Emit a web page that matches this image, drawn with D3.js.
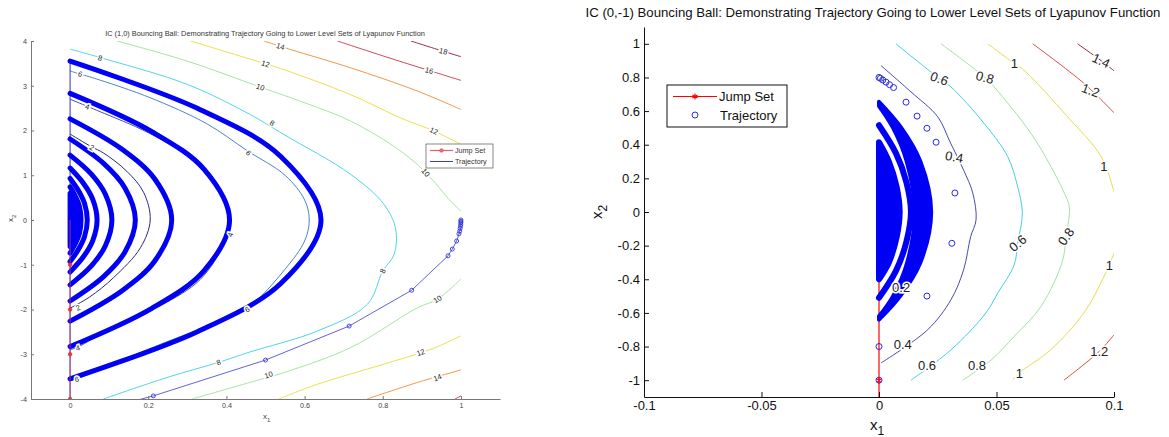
<!DOCTYPE html>
<html>
<head>
<meta charset="utf-8">
<title>Bouncing ball level sets</title>
<script src="https://cdn.jsdelivr.net/npm/d3@7/dist/d3.min.js"></script>
<style>
  body { margin: 0; background: #fff; }
  svg text { font-family: "Liberation Sans", Arial, Helvetica, sans-serif; }
</style>
</head>
<body>
<div id="chart-area"></div>
<script>
/*
*    Bouncing ball: two hybrid trajectories drawn over level sets of a Lyapunov function
*/

// ---------------- left plot, IC (1,0) ----------------
let leftXTicks = [0, 0.2, 0.4, 0.6, 0.8, 1];
let leftYTicks = [-4, -3, -2, -1, 0, 1, 2, 3, 4];

// contour lines, [x1, x2]
let leftContours = [
    { level: 2, pieces: [[[0,1.92],[0.056,1.63],[0.085,1.5],[0.145,1.09],[0.188,0.62],[0.205,0],[0.18,-0.62],[0.111,-1.29],[0.05,-1.72],[0,-1.97]]] },
    { level: 4, pieces: [[[0,2.7],[0.044,2.54],[0.077,2.42],[0.2,1.95],[0.333,1.25],[0.39,0.6],[0.408,0],[0.395,-0.5],[0.333,-1.33],[0.23,-1.92],[0.103,-2.42],[0.02,-2.84],[0,-2.9]]] },
    { level: 6, pieces: [[[0,3.33],[0.026,3.26],[0.05,3.2],[0.2,2.75],[0.35,2.15],[0.453,1.55],[0.55,1.0],[0.6,0.45],[0.612,0],[0.6,-0.47],[0.55,-1.1],[0.453,-1.97],[0.35,-2.38],[0.248,-2.72],[0.1,-3.25],[0.017,-3.55],[0,-3.58]]] },
    { level: 8, pieces: [[[0,3.82],[0.077,3.63],[0.3,3.03],[0.46,2.36],[0.547,1.91],[0.718,1.02],[0.803,0.35],[0.833,-0.2],[0.829,-0.77],[0.8,-1.14],[0.761,-1.88],[0.633,-2.48],[0.46,-2.95],[0.38,-3.18],[0.248,-3.52],[0.085,-4.0]]] },
    { level: 10, pieces: [[[0.12,4.0],[0.3,3.55],[0.487,2.97],[0.6,2.62],[0.718,2.21],[0.846,1.54],[0.91,1.06],[0.974,0.42],[1.0,0.2]],
                          [[1.0,-1.32],[0.94,-1.77],[0.889,-1.96],[0.718,-2.85],[0.547,-3.41],[0.46,-3.63],[0.312,-4.0]]] },
    { level: 12, pieces: [[[0.308,4.0],[0.5,3.49],[0.547,3.36],[0.718,2.8],[0.846,2.28],[0.931,1.99],[1.0,1.69]],
                          [[1.0,-2.59],[0.923,-2.89],[0.803,-3.22],[0.633,-3.67],[0.534,-4.0]]] },
    { level: 14, pieces: [[[0.496,4.0],[0.564,3.81],[0.718,3.4],[0.889,2.88],[1.0,2.47]],
                          [[1.0,-3.35],[0.889,-3.63],[0.76,-4.0]]] },
    { level: 16, pieces: [[[0.684,4.0],[0.803,3.66],[0.919,3.34],[1.0,3.12]],
                          [[0.985,-4.0],[1.0,-3.93]]] },
    { level: 18, pieces: [[[0.872,4.0],[0.955,3.77],[1.0,3.65]]] }
];

// contour labels: [level, x1, x2, angle]
let leftLabels = [
    [8, 0.077, 3.62, 15], [6, 0.026, 3.26, 15], [4, 0.044, 2.53, 20], [2, 0.056, 1.62, 30],
    [2, 0.02, -1.96, -25], [4, 0.02, -2.86, -15], [6, 0.017, -3.56, -10],
    [6, 0.457, 1.5, 45], [8, 0.517, 2.17, 30], [10, 0.487, 2.97, 20], [12, 0.5, 3.49, 18],
    [14, 0.538, 3.88, 15], [16, 0.919, 3.34, 15], [18, 0.955, 3.77, 15], [12, 0.931, 1.99, 25],
    [10, 0.91, 1.06, 50], [8, 0.8, -1.14, -65], [4, 0.41, -0.33, -70], [6, 0.453, -2.0, -30],
    [8, 0.38, -3.18, -20], [10, 0.508, -3.46, -20], [10, 0.94, -1.77, -30], [12, 0.897, -2.96, -20],
    [14, 0.94, -3.52, -20]
];

// first flow from (1,0) to the floor, sparse markers
let leftFirstArc = [[1,0],[1,-0.03],[0.9999,-0.06],[0.9995,-0.1],[0.999,-0.14],[0.998,-0.19],[0.997,-0.25],
    [0.995,-0.31],[0.989,-0.47],[0.978,-0.65],[0.967,-0.8],[0.874,-1.57],[0.714,-2.37],[0.5,-3.13],[0.213,-3.93],[0,-4.43]];

// later bounces, dense markers
let leftArcs = [
    [[0,3.55],[0.327,2.49],[0.539,1.42],[0.642,0],[0.539,-1.42],[0.327,-2.49],[0,-3.55]],
    [[0,2.83],[0.208,1.98],[0.343,1.13],[0.408,0],[0.343,-1.13],[0.208,-1.98],[0,-2.83]],
    [[0,2.26],[0.133,1.58],[0.218,0.9],[0.26,0],[0.218,-0.9],[0.133,-1.58],[0,-2.26]],
    [[0,1.81],[0.085,1.27],[0.14,0.72],[0.167,0],[0.14,-0.72],[0.085,-1.27],[0,-1.81]],
    [[0,1.45],[0.055,1.02],[0.09,0.58],[0.107,0],[0.09,-0.58],[0.055,-1.02],[0,-1.45]],
    [[0,1.16],[0.035,0.81],[0.058,0.46],[0.069,0],[0.058,-0.46],[0.035,-0.81],[0,-1.16]],
    [[0,0.93],[0.022,0.65],[0.037,0.37],[0.044,0],[0.037,-0.37],[0.022,-0.65],[0,-0.93]],
    [[0,0.74],[0.014,0.52],[0.024,0.3],[0.028,0],[0.024,-0.3],[0.014,-0.52],[0,-0.74]]
];
let leftBlob = [[0,0.6],[0.009,0.42],[0.015,0.24],[0.018,0],[0.015,-0.24],[0.009,-0.42],[0,-0.6]];

let leftJumpTrace = [[0,-4.43],[0,3.55]];
let leftJumpLine = [[0,-4],[0,0]];
let leftJumpMarks = [-4, -3, -2, -1];

// ---------------- right plot, IC (0,-1) ----------------
let rightXTicks = [-0.1, -0.05, 0, 0.05, 0.1];
let rightYTicks = [-1, -0.8, -0.6, -0.4, -0.2, 0, 0.2, 0.4, 0.6, 0.8, 1];

let rightContours = [
    { level: 0.2, pieces: [[[0,0.632],[0.0103,0.445],[0.0163,0.25],[0.0204,0],[0.0163,-0.25],[0.0103,-0.445],[0,-0.632]]] },
    { level: 0.4, pieces: [[[0.0009,0.87],[0.0136,0.714],[0.025,0.566],[0.0302,0.417],[0.036,0.249],[0.0399,0.113],[0.0413,-0.047],
                            [0.039,-0.147],[0.036,-0.344],[0.0306,-0.522],[0.0207,-0.7],[0.0009,-0.897]]] },
    { level: 0.6, pieces: [[[0.0072,1.0],[0.0257,0.793],[0.0306,0.744],[0.0447,0.527],[0.0548,0.328],[0.059,0.15],[0.061,-0.006],
                            [0.059,-0.186],[0.0575,-0.315],[0.0505,-0.483],[0.0455,-0.6],[0.0306,-0.82],[0.0136,-1.0]]] },
    { level: 0.8, pieces: [[[0.0264,1.0],[0.0451,0.8],[0.049,0.744],[0.0647,0.467],[0.0732,0.269],[0.0789,0.111],[0.081,0.03],
                            [0.0796,-0.146],[0.078,-0.295],[0.069,-0.56],[0.0575,-0.74],[0.0477,-0.88],[0.0356,-1.0]]] },
    { level: 1, pieces: [[[0.0463,1.0],[0.0576,0.883],[0.0617,0.843],[0.0803,0.565],[0.0945,0.33],[0.1,0.12]],
                         [[0.1,-0.245],[0.0957,-0.385],[0.0872,-0.6],[0.073,-0.82],[0.0597,-0.957],[0.0569,-1.0]]] },
    { level: 1.2, pieces: [[[0.0654,1.0],[0.0872,0.765],[0.1,0.59]], [[0.1,-0.73],[0.0937,-0.829],[0.0787,-1.0]]] },
    { level: 1.4, pieces: [[[0.0845,1.0],[0.0945,0.9],[0.1,0.84]]] }
];

let rightLabels = [
    [0.6, 0.0257, 0.793, 20], [0.8, 0.0451, 0.8, 15], [1, 0.0576, 0.883, 0], [1.4, 0.0945, 0.9, 25],
    [1.2, 0.09, 0.724, 20], [0.4, 0.032, 0.328, 10], [1, 0.0957, 0.27, 0], [0.2, 0.0094, -0.447, 0],
    [0.6, 0.059, -0.186, -40], [0.8, 0.0796, -0.146, -55], [1, 0.098, -0.315, 0], [0.4, 0.0101, -0.79, 0],
    [0.6, 0.0204, -0.914, 0], [0.8, 0.0417, -0.914, 0], [1, 0.0597, -0.957, 0], [1.2, 0.0937, -0.829, 0]
];

// sparse markers of the first bounce
let rightTraj = [[0,-1],[0,0.8],[0.0006,0.795],[0.0016,0.785],[0.003,0.772],[0.0045,0.757],[0.0062,0.74],
    [0.0115,0.653],[0.0162,0.57],[0.0204,0.498],[0.0243,0.415],[0.0323,0.113],[0.031,-0.186],[0.0204,-0.5],[0,-0.8]];

// dense bands of the later bounces
let rightBandOuter = [[0,0.655],[0.0095,0.5],[0.0176,0.3],[0.0222,0],[0.0176,-0.3],[0.009,-0.5],[0,-0.64]];
let rightBandInner = [[0,0.63],[0.006,0.5],[0.0118,0.3],[0.0152,0],[0.012,-0.3],[0.006,-0.5],[0,-0.62]];
let rightMidArc = [[0,0.516],[0.0072,0.35],[0.0116,0.18],[0.0136,0],[0.0116,-0.18],[0.0072,-0.35],[0,-0.51]];
let rightCore = [[0,0.415],[0.0042,0.3],[0.0075,0.15],[0.0088,0],[0.0075,-0.15],[0.0042,-0.3],[0,-0.4]];

let rightJumpLine = [[0,-1.1],[0,0]];
let rightJumpMarks = [-1];

// colours (jet-like, as rendered)
let leftColors = ["#2a2a7c", "#4b4ba8", "#4a86c8", "#4fd6e8", "#a8e4a2", "#ece04a", "#ee9848", "#d2485a", "#98304a"];
let rightColors = ["#22227e", "#4a4aae", "#42d0e0", "#a6e0a4", "#e8dc4c", "#dc4a4a", "#8a2c3a"];
let blue = "#0000f5";

let svg = d3.select("#chart-area")
    .append("svg")
    .attr("width", 1169)
    .attr("height", 437);

let curve = d3.curveCatmullRom.alpha(0.5);

function drawContours(g, x, y, contours, colors) {
    let line = d3.line().x(d => x(d[0])).y(d => y(d[1])).curve(curve);
    contours.forEach(function(c, i) {
        c.pieces.forEach(function(p) {
            g.append("path")
                .attr("d", line(p))
                .attr("fill", "none")
                .attr("stroke", colors[i])
                .attr("stroke-width", 1);
        });
    });
}

function drawLabels(g, x, y, labels, size) {
    g.selectAll("text.clabel")
        .data(labels)
        .enter()
        .append("text")
        .attr("class", "clabel")
        .attr("transform", d => "translate(" + x(d[1]) + "," + y(d[2]) + ") rotate(" + d[3] + ")")
        .attr("text-anchor", "middle")
        .attr("dy", "0.35em")
        .attr("font-size", size)
        .attr("fill", "#222")
        .attr("stroke", "#fff")
        .attr("stroke-width", 3)
        .attr("paint-order", "stroke")
        .text(d => String(d[0]));
}

function drawAxes(g, x, y, w, h, xt, yt, size, axisColor, textColor, tick) {
    let xa = g.append("g")
        .attr("transform", "translate(0," + h + ")")
        .call(d3.axisBottom(x).tickValues(xt).tickFormat(d => String(d)).tickSize(-tick).tickSizeOuter(0).tickPadding(4));
    let ya = g.append("g")
        .call(d3.axisLeft(y).tickValues(yt).tickFormat(d => String(d)).tickSize(-tick).tickSizeOuter(0).tickPadding(4));
    [xa, ya].forEach(function(a) {
        a.attr("font-size", size).attr("font-family", null);
        a.selectAll("path, line").attr("stroke", axisColor);
        a.selectAll("text").attr("fill", textColor);
    });
}

// ================= LEFT =================
let lm = { left: 31, top: 41, width: 469, height: 358 };
let gL = svg.append("g").attr("transform", "translate(" + lm.left + "," + lm.top + ")");
let xL = d3.scaleLinear().domain([-0.1, 1.1]).range([0, lm.width]);
let yL = d3.scaleLinear().domain([-4, 4]).range([lm.height, 0]);
let lineL = d3.line().x(d => xL(d[0])).y(d => yL(d[1])).curve(curve);
let straightL = d3.line().x(d => xL(d[0])).y(d => yL(d[1]));

svg.append("clipPath").attr("id", "clipL")
    .append("rect").attr("x", -5).attr("y", 0).attr("width", lm.width + 5).attr("height", lm.height);
let pL = gL.append("g").attr("clip-path", "url(#clipL)");

drawContours(pL, xL, yL, leftContours, leftColors);

// jumps along x1 = 0
pL.append("path").attr("d", straightL(leftJumpTrace))
    .attr("stroke", "#3030c8").attr("stroke-width", 1).attr("fill", "none");

// dense bounce arcs
leftArcs.forEach(function(a) {
    pL.append("path").attr("d", lineL(a))
        .attr("fill", "none").attr("stroke", blue)
        .attr("stroke-width", 5).attr("stroke-linecap", "round");
});
pL.append("path").attr("d", lineL(leftBlob) + "Z")
    .attr("fill", blue).attr("stroke", blue).attr("stroke-width", 5).attr("stroke-linejoin", "round");

// first fall
pL.append("path").attr("d", straightL(leftFirstArc))
    .attr("fill", "none").attr("stroke", "#3a3ad0").attr("stroke-width", 0.8);
pL.selectAll("circle.first")
    .data(leftFirstArc)
    .enter()
    .append("circle")
    .attr("class", "first")
    .attr("cx", d => xL(d[0]))
    .attr("cy", d => yL(d[1]))
    .attr("r", 2)
    .attr("fill", "none")
    .attr("stroke", "#3636d8")
    .attr("stroke-width", 0.9);

// jump set
pL.append("path").attr("d", straightL(leftJumpLine))
    .attr("stroke", "#e0404a").attr("stroke-opacity", 0.6).attr("stroke-width", 1.2);
pL.selectAll("circle.jump")
    .data(leftJumpMarks)
    .enter()
    .append("circle")
    .attr("class", "jump")
    .attr("cx", xL(0))
    .attr("cy", d => yL(d))
    .attr("r", 1.8)
    .attr("fill", "#ff3030")
    .attr("stroke", "#e02020")
    .attr("stroke-width", 0.6);

drawLabels(gL, xL, yL, leftLabels, 7.5);
drawAxes(gL, xL, yL, lm.width, lm.height, leftXTicks, leftYTicks, 7.2, "#777", "#444", 3);

// title & axis labels
svg.append("text").attr("x", 265).attr("y", 36).attr("text-anchor", "middle")
    .attr("font-size", 7.4).attr("fill", "#333")
    .text("IC (1,0) Bouncing Ball: Demonstrating Trajectory Going to Lower Level Sets of Lyapunov Function");
let xlabL = svg.append("text").attr("x", 263).attr("y", 419).attr("font-size", 8).attr("fill", "#444");
xlabL.append("tspan").text("x");
xlabL.append("tspan").attr("dy", 2.5).attr("font-size", 6).text("1");
let ylabL = svg.append("text").attr("transform", "translate(13,222) rotate(-90)").attr("font-size", 8).attr("fill", "#444");
ylabL.append("tspan").text("x");
ylabL.append("tspan").attr("dy", 2.5).attr("font-size", 6).text("2");

// legend
let lgL = svg.append("g").attr("transform", "translate(426,144)");
lgL.append("rect").attr("width", 67).attr("height", 24).attr("fill", "#fff").attr("stroke", "#555").attr("stroke-width", 0.7);
lgL.append("line").attr("x1", 4).attr("x2", 27).attr("y1", 6.5).attr("y2", 6.5).attr("stroke", "#e06070").attr("stroke-width", 1.2);
lgL.append("circle").attr("cx", 15.5).attr("cy", 6.5).attr("r", 1.8).attr("fill", "#f07080").attr("stroke", "#d04050").attr("stroke-width", 0.6);
lgL.append("text").attr("x", 29).attr("y", 6.5).attr("dy", "0.35em").attr("font-size", 7.2).attr("fill", "#333").text("Jump Set");
lgL.append("line").attr("x1", 4).attr("x2", 27).attr("y1", 17.5).attr("y2", 17.5).attr("stroke", "#3a3ad8").attr("stroke-width", 1);
lgL.append("text").attr("x", 29).attr("y", 17.5).attr("dy", "0.35em").attr("font-size", 7.2).attr("fill", "#333").text("Trajectory");

// ================= RIGHT =================
let rm = { left: 644, top: 27, width: 470, height: 370 };
let gR = svg.append("g").attr("transform", "translate(" + rm.left + "," + rm.top + ")");
let xR = d3.scaleLinear().domain([-0.1, 0.1]).range([0, rm.width]);
let yR = d3.scaleLinear().domain([-1.1, 1.1]).range([rm.height, 0]);
let lineR = d3.line().x(d => xR(d[0])).y(d => yR(d[1])).curve(curve);
let straightR = d3.line().x(d => xR(d[0])).y(d => yR(d[1]));

svg.append("clipPath").attr("id", "clipR")
    .append("rect").attr("width", rm.width).attr("height", rm.height);
let pR = gR.append("g").attr("clip-path", "url(#clipR)");

drawContours(pR, xR, yR, rightContours, rightColors);

// jump set line sits under the dense bands
pR.append("path").attr("d", straightR(rightJumpLine))
    .attr("stroke", "#ff0000").attr("stroke-width", 1.2);

// dense bands
pR.append("path")
    .attr("d", lineR(rightBandOuter) + lineR(rightBandInner.slice().reverse()).replace(/^M/, "L") + "Z")
    .attr("fill", blue).attr("stroke", blue).attr("stroke-width", 4).attr("stroke-linejoin", "round");
pR.append("path").attr("d", lineR(rightMidArc))
    .attr("fill", "none").attr("stroke", blue).attr("stroke-width", 6).attr("stroke-linecap", "round");
pR.append("path").attr("d", lineR(rightCore) + "Z")
    .attr("fill", blue).attr("stroke", blue).attr("stroke-width", 6).attr("stroke-linejoin", "round");

pR.selectAll("circle.traj")
    .data(rightTraj)
    .enter()
    .append("circle")
    .attr("class", "traj")
    .attr("cx", d => xR(d[0]))
    .attr("cy", d => yR(d[1]))
    .attr("r", 3)
    .attr("fill", "none")
    .attr("stroke", "#2a2ae0")
    .attr("stroke-width", 1);

pR.selectAll("path.star")
    .data(rightJumpMarks)
    .enter()
    .append("path")
    .attr("class", "star")
    .attr("transform", d => "translate(" + xR(0) + "," + yR(d) + ")")
    .attr("d", d3.symbol().type(d3.symbolAsterisk).size(24))
    .attr("fill", "none")
    .attr("stroke", "#ff0000")
    .attr("stroke-width", 1.2);

drawLabels(gR, xR, yR, rightLabels, 13);
drawAxes(gR, xR, yR, rm.width, rm.height, rightXTicks, rightYTicks, 13, "#111", "#111", 5);

svg.append("text").attr("x", 873).attr("y", 17).attr("text-anchor", "middle")
    .attr("font-size", 13.2).attr("fill", "#111")
    .text("IC (0,-1) Bouncing Ball: Demonstrating Trajectory Going to Lower Level Sets of Lyapunov Function");
let xlabR = svg.append("text").attr("x", 870).attr("y", 430).attr("font-size", 15).attr("fill", "#111");
xlabR.append("tspan").text("x");
xlabR.append("tspan").attr("dy", 5).attr("font-size", 12).text("1");
let ylabR = svg.append("text").attr("transform", "translate(602,219) rotate(-90)").attr("font-size", 15).attr("fill", "#111");
ylabR.append("tspan").text("x");
ylabR.append("tspan").attr("dy", 5).attr("font-size", 12).text("2");

let lgR = svg.append("g").attr("transform", "translate(667,85)");
lgR.append("rect").attr("width", 120).attr("height", 42).attr("fill", "#fff").attr("stroke", "#111").attr("stroke-width", 1);
lgR.append("line").attr("x1", 6).attr("x2", 50).attr("y1", 11.5).attr("y2", 11.5).attr("stroke", "#ff0000").attr("stroke-width", 1.2);
lgR.append("path").attr("transform", "translate(28,11.5)")
    .attr("d", d3.symbol().type(d3.symbolAsterisk).size(24))
    .attr("fill", "none").attr("stroke", "#ff0000").attr("stroke-width", 1.2);
lgR.append("text").attr("x", 52).attr("y", 11.5).attr("dy", "0.35em").attr("font-size", 13).attr("fill", "#111").text("Jump Set");
lgR.append("circle").attr("cx", 28).attr("cy", 30).attr("r", 3).attr("fill", "none").attr("stroke", "#2a2ae0").attr("stroke-width", 1);
lgR.append("text").attr("x", 53).attr("y", 30).attr("dy", "0.35em").attr("font-size", 13).attr("fill", "#111").text("Trajectory");
</script>
</body>
</html>
